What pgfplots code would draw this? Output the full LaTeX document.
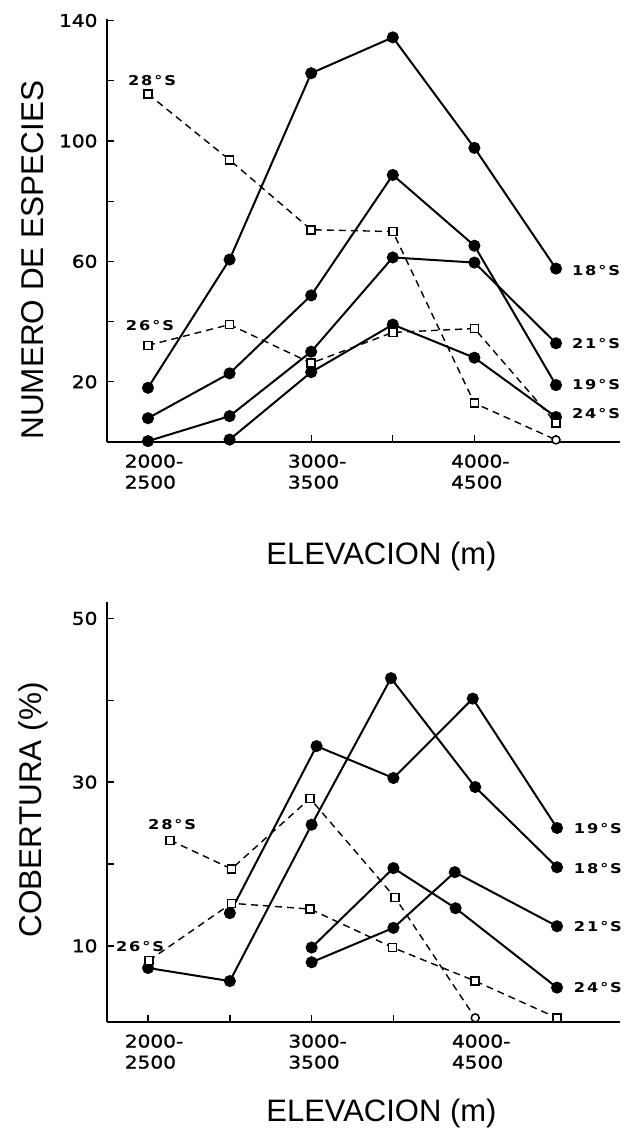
\documentclass[border=0pt]{standalone}
\usepackage{fontspec}
\setmainfont{Liberation Sans}
\newfontfamily\tickfont{DejaVu Sans}[FakeStretch=1.15, FakeBold=1.2]
\newfontfamily\lblfont{DejaVu Sans Bold}[FakeStretch=1.2,LetterSpace=14]
\usepackage{pgfplots}
\pgfplotsset{compat=1.18}
\pgfplotsset{
  common/.style={
    scale only axis, clip=false,
    axis x line=bottom, axis y line=left,
    axis line style={-, line width=1.8bp},
    tick align=inside, major tick length=7bp,
    tick style={line width=1.3bp, black},
    xtick={2000,2500,3000,3500,4000,4500},
    xticklabels={{2000-\\2500},,{3000-\\3500},,{4000-\\4500},},
    xticklabel style={align=left, font=\tickfont\fontsize{17.5bp}{21bp}\selectfont, xshift=6bp, yshift=-9bp},
    yticklabel style={font=\tickfont\fontsize{17.5bp}{21bp}\selectfont, xshift=-6bp},
    xlabel style={font=\fontsize{31bp}{31bp}\selectfont, anchor=center},
    ylabel style={font=\fontsize{31.5bp}{31.5bp}\selectfont, anchor=center},
  },
  sol/.style={black, line width=2bp, mark=*, mark size=5bp, mark options={solid}},
  dsh/.style={black, line width=1.4bp, dash pattern=on 7bp off 5bp, mark=square*, mark size=4bp, mark options={solid, fill=white, line width=1.5bp}},
}
\tikzset{lbl/.style={font=\lblfont\fontsize{13.5bp}{15bp}\selectfont, inner sep=0pt}}
\begin{document}
\begin{tikzpicture}
\path[use as bounding box] (0bp,0bp) rectangle (624bp,-1133bp);
% ---------------- top ----------------
\begin{axis}[common,
  at={(107bp,-442bp)}, anchor=south west,
  width=513bp, height=423bp,
  xmin=1749, xmax=4892, ymin=0, ymax=140.5,
  ytick={20,40,60,80,100,120,140}, yticklabels={20,,60,,100,,140},
  xlabel={ELEVACION (m)}, xlabel style={at={(axis description cs:0.535,-0.27)}},
  ylabel={NUMERO DE ESPECIES}, ylabel style={at={(axis description cs:-0.144,0.43)}},
]
\addplot[sol] coordinates {(2000,18)(2500,60.6)(3000,122.5)(3500,134.4)(4000,97.7)(4500,57.6)};
\addplot[sol] coordinates {(2000,7.9)(2500,22.8)(3000,48.7)(3500,88.7)(4000,65.2)(4500,18.9)};
\addplot[sol] coordinates {(2000,0.3)(2500,8.6)(3000,30)(3500,61.3)(4000,59.6)(4500,32.8)};
\addplot[sol] coordinates {(2500,0.8)(3000,23.2)(3500,39)(4000,28)(4500,8.3)};
\addplot[dsh, mark indices={1,2,3,4,5}] coordinates {(2000,115.6)(2500,93.7)(3000,70.5)(3500,69.9)(4000,12.9)(4500,0.7)};
\addplot[only marks, mark=*, mark size=4bp, mark options={fill=white, line width=1.5bp}] coordinates {(4500,0.7)};
\addplot[dsh] coordinates {(2000,32.1)(2500,39)(3000,26.2)(3500,36.4)(4000,37.7)(4500,6.3)};
\node[lbl] at (axis cs:2025,120) {28°S};
\node[lbl] at (axis cs:2012,38.7) {26°S};
\node[lbl] at (axis cs:4745,57) {18°S};
\node[lbl] at (axis cs:4745,32.8) {21°S};
\node[lbl] at (axis cs:4745,19.2) {19°S};
\node[lbl] at (axis cs:4745,9.6) {24°S};
\end{axis}
% ---------------- bottom ----------------
\begin{axis}[common,
  at={(107bp,-1022bp)}, anchor=south west,
  width=513bp, height=420bp,
  xmin=1749, xmax=4885, ymin=0.7, ymax=52,
  ytick={10,20,30,40,50}, yticklabels={10,,30,,50},
  xlabel={ELEVACION (m)}, xlabel style={at={(axis description cs:0.535,-0.217)}},
  ylabel={COBERTURA (\%)}, ylabel style={at={(axis description cs:-0.144,0.505)}},
]
\addplot[sol] coordinates {(2000,7.3)(2500,5.7)(3000,24.8)(3485,42.7)(4000,29.4)(4500,19.6)};
\addplot[sol] coordinates {(2500,14.0)(3030,34.4)(3500,30.5)(3985,40.2)(4500,24.4)};
\addplot[sol] coordinates {(3000,8.0)(3500,12.2)(3875,19.0)(4500,12.4)};
\addplot[sol] coordinates {(3000,9.8)(3500,19.5)(3880,14.6)(4500,4.9)};
\addplot[dsh, mark indices={1,2,3,4}] coordinates {(2135,22.9)(2510,19.4)(2990,28.0)(3510,15.9)(4000,1.2)};
\addplot[only marks, mark=*, mark size=4bp, mark options={fill=white, line width=1.5bp}] coordinates {(4000,1.2)};
\addplot[dsh] coordinates {(2005,8.2)(2510,15.2)(2990,14.5)(3495,9.8)(4000,5.7)(4500,1.2)};
\node[lbl] at (axis cs:2147,24.8) {28°S};
\node[lbl] at (axis cs:1951,9.9) {26°S};
\node[lbl] at (axis cs:4750,24.3) {19°S};
\node[lbl] at (axis cs:4750,19.5) {18°S};
\node[lbl] at (axis cs:4750,12.4) {21°S};
\node[lbl] at (axis cs:4750,4.9) {24°S};
\end{axis}
\end{tikzpicture}
\end{document}
